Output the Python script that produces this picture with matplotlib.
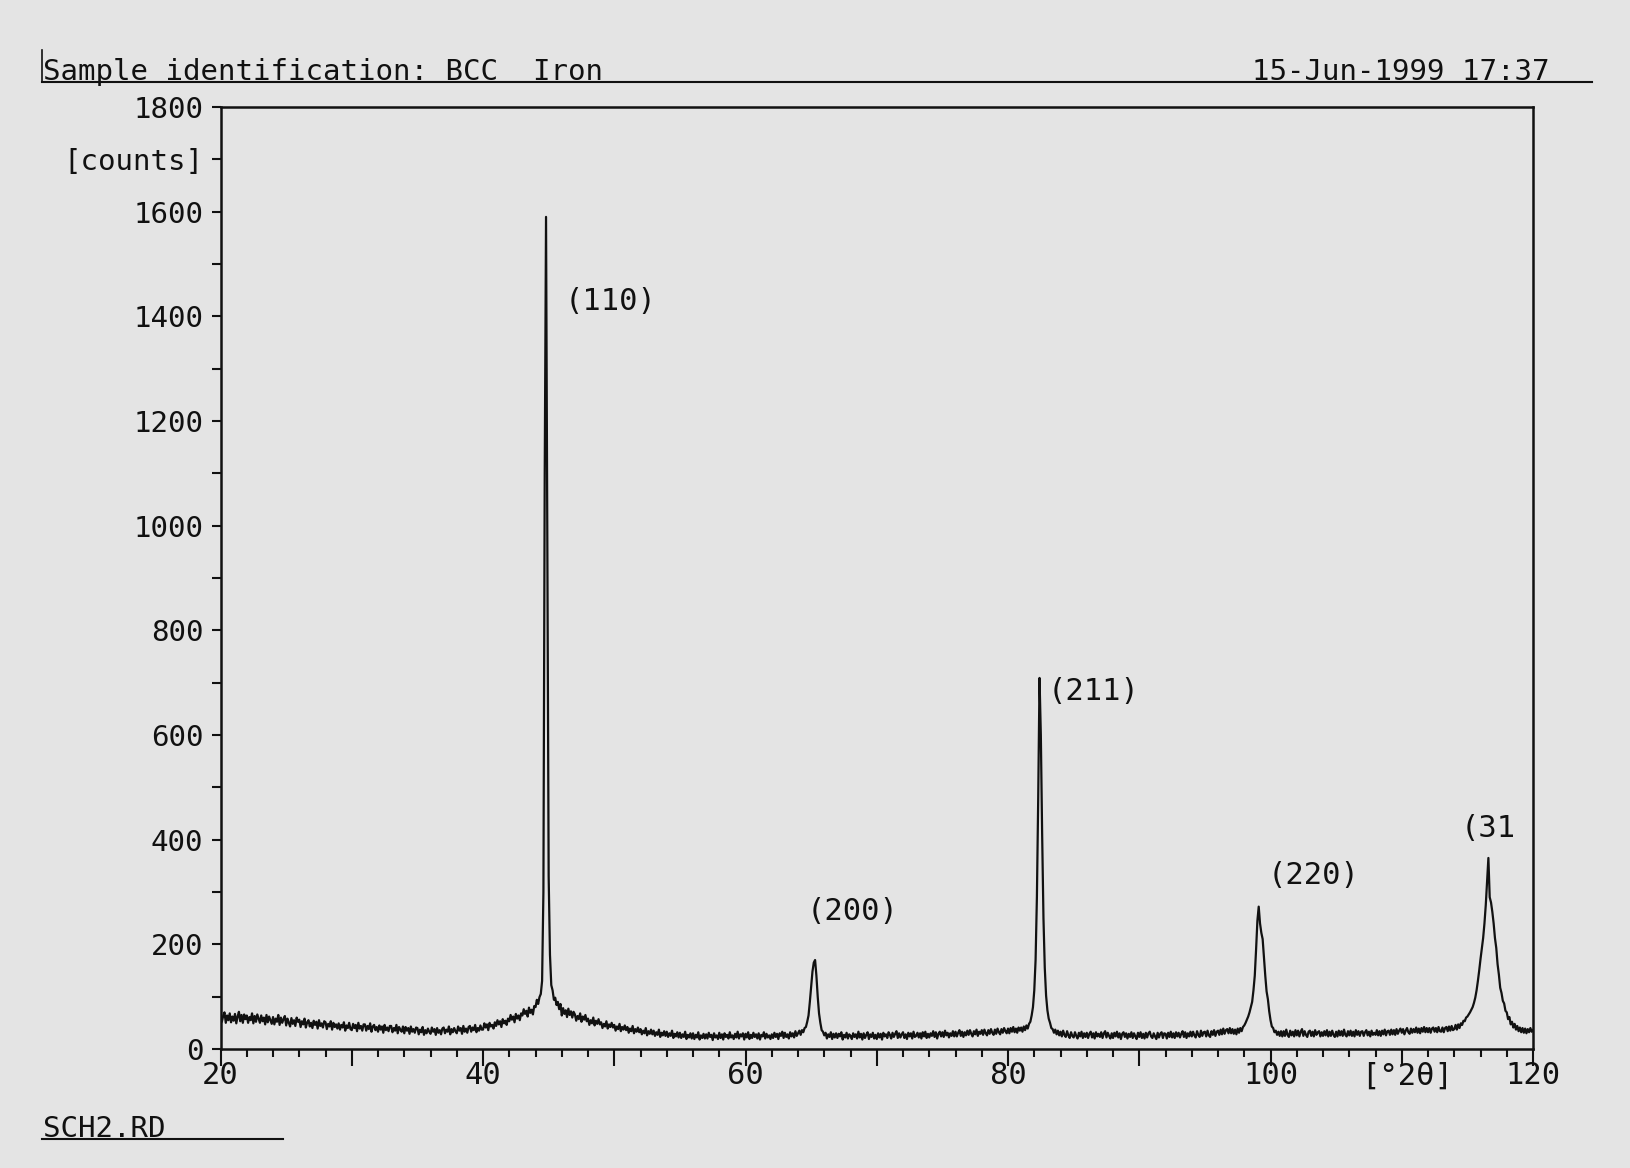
import matplotlib.pyplot as plt
import matplotlib.transforms as mtransforms
import numpy as np

# scan grid, 20..120 deg 2theta in 0.1 deg steps; counts, one row per degree
two_theta = np.round(np.arange(20, 120.05, 0.1), 1)
counts_rows = [
    [66, 52, 63, 70, 50, 64, 55, 68, 51, 62],   # 20
    [54, 67, 49, 62, 71, 53, 65, 50, 66, 57],
    [64, 50, 61, 55, 68, 49, 63, 52, 66, 58],
    [50, 64, 53, 60, 47, 65, 51, 62, 55, 48],
    [61, 47, 58, 52, 65, 46, 60, 50, 57, 63],
    [45, 58, 50, 43, 59, 48, 55, 44, 60, 52],   # 25
    [56, 42, 53, 47, 58, 41, 51, 55, 43, 50],
    [40, 54, 46, 52, 39, 55, 44, 49, 41, 53],
    [51, 38, 48, 43, 53, 37, 50, 42, 47, 39],
    [49, 37, 46, 41, 51, 35, 45, 40, 50, 38],
    [36, 48, 40, 46, 34, 50, 39, 44, 35, 47],   # 30
    [47, 35, 44, 38, 49, 33, 43, 46, 36, 42],
    [33, 45, 37, 43, 31, 46, 36, 41, 34, 44],
    [44, 32, 40, 35, 46, 30, 42, 37, 33, 43],
    [30, 42, 35, 40, 29, 43, 33, 38, 31, 41],
    [40, 28, 37, 32, 42, 27, 36, 30, 39, 33],   # 35
    [29, 41, 33, 38, 27, 40, 31, 36, 28, 39],
    [41, 30, 37, 33, 43, 28, 38, 32, 40, 34],
    [30, 43, 35, 40, 29, 44, 33, 39, 31, 42],
    [44, 33, 41, 36, 46, 32, 40, 35, 45, 37],
    [37, 49, 41, 47, 36, 50, 43, 46, 39, 51],   # 40
    [44, 55, 47, 53, 42, 57, 49, 54, 46, 58],
    [53, 65, 56, 62, 51, 67, 58, 64, 55, 68],
    [64, 76, 67, 73, 62, 79, 69, 75, 66, 82],
    [80, 94, 86, 99, 105, 130, 300, 1100, 1590, 950],
    [330, 180, 122, 112, 94, 98, 84, 90, 76, 86],   # 45
    [64, 78, 67, 74, 61, 77, 65, 72, 60, 71],
    [66, 54, 63, 57, 68, 52, 62, 56, 65, 53],
    [58, 46, 55, 49, 60, 45, 54, 48, 57, 47],
    [51, 40, 48, 43, 53, 39, 47, 42, 50, 41],
    [46, 35, 43, 38, 48, 34, 42, 37, 45, 36],   # 50
    [42, 31, 39, 34, 44, 30, 38, 33, 41, 32],
    [38, 28, 35, 30, 40, 26, 34, 29, 37, 28],
    [35, 25, 32, 27, 37, 23, 31, 26, 34, 25],
    [33, 23, 30, 25, 35, 21, 29, 24, 32, 22],
    [31, 21, 28, 23, 33, 19, 27, 22, 30, 20],   # 55
    [30, 19, 27, 22, 32, 18, 26, 21, 29, 20],
    [28, 20, 31, 23, 27, 17, 30, 22, 26, 19],
    [31, 21, 28, 18, 30, 23, 27, 20, 32, 22],
    [26, 19, 29, 22, 33, 20, 28, 24, 30, 18],
    [29, 22, 32, 19, 27, 21, 31, 23, 28, 20],   # 60
    [30, 18, 27, 24, 32, 20, 29, 22, 26, 19],
    [28, 21, 31, 23, 29, 19, 30, 25, 33, 21],
    [31, 23, 28, 20, 32, 24, 30, 22, 34, 25],
    [30, 35, 27, 36, 32, 40, 42, 52, 64, 90],
    [120, 148, 165, 170, 140, 100, 68, 50, 36, 33],   # 65
    [26, 31, 20, 28, 23, 32, 19, 29, 22, 30],
    [21, 29, 24, 32, 18, 27, 22, 31, 20, 28],
    [25, 19, 30, 23, 28, 20, 33, 22, 29, 18],
    [30, 21, 27, 32, 19, 28, 23, 31, 20, 27],
    [19, 30, 22, 29, 18, 31, 24, 28, 21, 32],   # 70
    [27, 20, 31, 23, 29, 34, 21, 30, 22, 28],
    [32, 21, 28, 19, 31, 24, 30, 20, 33, 23],
    [25, 31, 22, 30, 20, 32, 24, 33, 21, 29],
    [22, 30, 25, 34, 23, 32, 20, 29, 33, 24],
    [32, 23, 35, 26, 31, 22, 30, 25, 34, 24],   # 75
    [33, 24, 31, 36, 25, 33, 23, 32, 26, 35],
    [27, 36, 29, 24, 34, 28, 37, 25, 33, 29],
    [36, 27, 37, 30, 26, 36, 29, 38, 31, 27],
    [37, 29, 39, 32, 28, 38, 31, 40, 34, 30],
    [39, 30, 40, 33, 42, 32, 39, 31, 41, 35],   # 80
    [41, 33, 43, 36, 45, 39, 48, 52, 64, 80],
    [112, 170, 290, 480, 709, 600, 410, 250, 155, 102],
    [74, 58, 50, 40, 38, 31, 37, 28, 35, 26],
    [33, 24, 35, 27, 23, 34, 26, 21, 32, 25],
    [22, 32, 25, 20, 31, 24, 33, 21, 30, 23],   # 85
    [31, 21, 29, 33, 22, 30, 20, 32, 24, 29],
    [23, 32, 21, 30, 34, 22, 31, 25, 20, 30],
    [21, 31, 24, 33, 22, 30, 19, 29, 32, 23],
    [30, 20, 29, 23, 32, 21, 30, 24, 19, 31],
    [23, 32, 21, 29, 20, 31, 22, 30, 33, 24],   # 90
    [21, 30, 24, 19, 31, 22, 29, 32, 21, 30],
    [29, 20, 31, 23, 33, 22, 30, 21, 32, 24],
    [31, 22, 29, 34, 23, 32, 21, 30, 24, 33],
    [24, 33, 26, 22, 34, 27, 23, 35, 25, 32],
    [33, 24, 35, 26, 23, 34, 27, 36, 25, 33],   # 95
    [35, 27, 37, 28, 39, 29, 36, 38, 30, 40],
    [30, 38, 29, 37, 28, 39, 31, 40, 34, 42],
    [45, 50, 56, 62, 70, 80, 90, 112, 140, 190],
    [245, 272, 240, 222, 210, 175, 140, 110, 95, 72],
    [55, 43, 40, 32, 35, 27, 33, 25, 34, 24],   # 100
    [34, 25, 37, 27, 23, 35, 26, 33, 24, 36],
    [26, 35, 24, 33, 38, 25, 34, 27, 23, 33],
    [35, 25, 33, 24, 36, 27, 32, 34, 24, 32],
    [25, 34, 26, 36, 24, 33, 25, 35, 27, 23],
    [33, 24, 35, 26, 34, 25, 37, 27, 24, 34],   # 105
    [26, 35, 25, 33, 24, 36, 27, 34, 25, 33],
    [34, 25, 32, 36, 26, 33, 24, 35, 27, 31],
    [27, 36, 26, 34, 25, 35, 28, 37, 26, 34],
    [35, 27, 37, 28, 36, 27, 38, 29, 35, 39],
    [31, 38, 28, 35, 40, 32, 29, 39, 31, 38],   # 110
    [32, 41, 31, 39, 30, 40, 33, 42, 32, 40],
    [32, 40, 31, 39, 41, 33, 40, 32, 42, 34],
    [33, 41, 32, 40, 42, 34, 43, 35, 44, 36],
    [38, 46, 37, 47, 40, 49, 46, 54, 53, 60],
    [62, 66, 70, 75, 80, 88, 98, 112, 130, 150],   # 115
    [172, 192, 212, 240, 275, 320, 365, 290, 280, 262],
    [240, 212, 193, 162, 142, 117, 107, 92, 87, 73],
    [70, 57, 61, 47, 52, 41, 48, 37, 44, 34],
    [41, 32, 40, 31, 39, 30, 38, 32, 40, 33],
    [36],   # 120
]
counts = np.array([c for row in counts_rows for c in row])

peak_labels = ['(110)', '(200)', '(211)', '(220)', '(31']
label_x = [46.2, 64.65, 83.0, 99.8, 114.45]
label_y = [1429, 262, 683, 331, 421]

y_ticks = [0, 200, 400, 600, 800, 1000, 1200, 1400, 1600, 1700, 1800]
y_ticklabels = ['0', '200', '400', '600', '800', '1000', '1200', '1400', '1600', '[counts]', '1800']
x_ticks = [20, 30, 40, 50, 60, 70, 80, 90, 100, 110, 120]
x_ticklabels = ['20', '', '40', '', '60', '', '80', '', '100', '', '120']

bg = '#e4e4e4'
ink = '#111111'
plt.rcParams['font.family'] = ['DejaVu Sans Mono']

fig = plt.figure(figsize=(16.3, 11.68), dpi=100, facecolor=bg)
ax = fig.add_axes([0.1353, 0.1019, 0.8052, 0.8065], facecolor=bg)

ax.plot(two_theta, counts, color=ink, lw=1.6)

ax.set_xlim(20, 120)
ax.set_ylim(0, 1800)

ax.set_xticks(x_ticks)
ax.set_xticklabels(x_ticklabels)
ax.set_xticks(np.arange(22, 120, 2), minor=True)
ax.set_yticks(y_ticks)
ax.set_yticklabels(y_ticklabels)
ax.set_yticks([100, 300, 500, 700, 900, 1100, 1300, 1500], minor=True)

ax.tick_params(axis='x', which='major', length=12, width=1.5, pad=-3, labelsize=22, colors=ink)
ax.tick_params(axis='x', which='minor', length=6, width=1.5, colors=ink)
ax.tick_params(axis='y', which='both', length=6.5, width=1.5, pad=6, labelsize=21, colors=ink)
for s in ax.spines.values():
    s.set_linewidth(1.8)
    s.set_color(ink)

for t, lx, ly in zip(peak_labels, label_x, label_y):
    ax.text(lx, ly, t, fontsize=22, color=ink, ha='left', va='center')

# unit label sits in the tick label row
unit_tf = ax.get_xaxis_transform() + mtransforms.ScaledTranslation(0, -13 / 100, fig.dpi_scale_trans)
ax.text(110.4, 0, '[\u00b02\u03b8]', transform=unit_tf, fontsize=22, color=ink, ha='center', va='top')

# header and footer
W, H = 1630, 1168
fig.text(43 / W, 1 - 80 / H, 'Sample identification: BCC  Iron', fontsize=21, color=ink,
         ha='left', va='baseline')
fig.text(1549 / W, 1 - 80 / H, '15-Jun-1999 17:37', fontsize=21, color=ink,
         ha='right', va='baseline')
fig.add_artist(plt.Line2D([42 / W, 1592 / W], [1 - 82 / H, 1 - 82 / H], color=ink, lw=1.5))
fig.add_artist(plt.Line2D([41.5 / W, 41.5 / W], [1 - 50 / H, 1 - 82 / H], color=ink, lw=1.2))
fig.text(43 / W, 1 - 1137 / H, 'SCH2.RD', fontsize=21, color=ink, ha='left', va='baseline')
fig.add_artist(plt.Line2D([42 / W, 283 / W], [1 - 1139 / H, 1 - 1139 / H], color=ink, lw=1.5))

fig.savefig('out.png', dpi=100, facecolor=bg)
